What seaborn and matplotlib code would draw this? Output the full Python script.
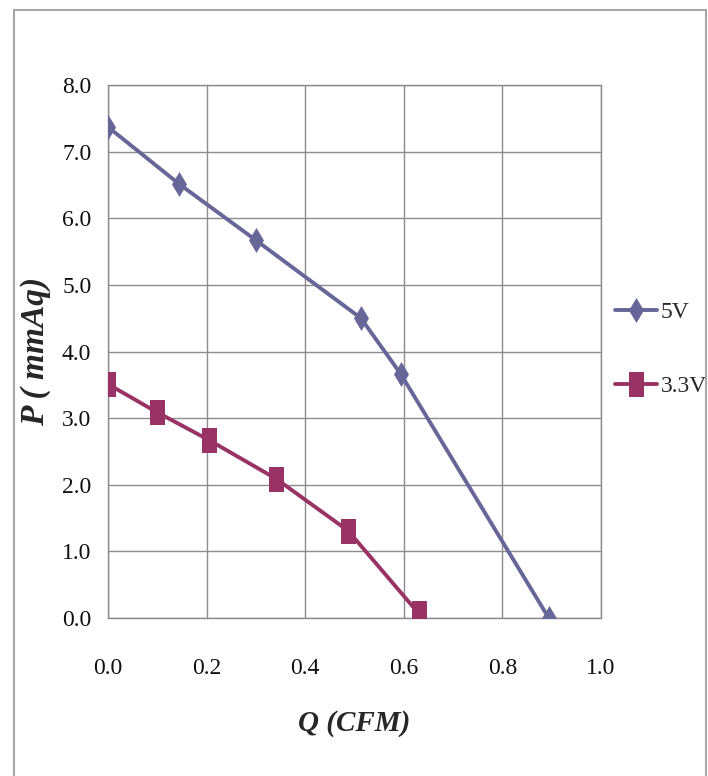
import numpy as np
import pandas as pd
import seaborn as sns
import matplotlib.pyplot as plt
from matplotlib.patches import Rectangle

# fan curve data
q_5v = [0.0, 0.145, 0.30, 0.513, 0.594, 0.894]
p_5v = [7.37, 6.51, 5.67, 4.50, 3.66, 0.0]
q_33v = [0.0, 0.099, 0.205, 0.341, 0.487, 0.630]
p_33v = [3.51, 3.09, 2.67, 2.09, 1.31, 0.07]
series_names = ["5V", "3.3V"]
x_ticks = [0.0, 0.2, 0.4, 0.6, 0.8, 1.0]
y_ticks = [0.0, 1.0, 2.0, 3.0, 4.0, 5.0, 6.0, 7.0, 8.0]

df = pd.concat([
    pd.DataFrame({"Q": q_5v, "P": p_5v, "series": series_names[0]}),
    pd.DataFrame({"Q": q_33v, "P": p_33v, "series": series_names[1]}),
], ignore_index=True)

sns.set_style("white")
plt.rcParams["font.family"] = ["Liberation Serif", "DejaVu Serif"]

GRID = "#8c8c8c"
palette = {"5V": "#666699", "3.3V": "#993366"}
diamond = [(0, -0.5), (0.3, 0), (0, 0.5), (-0.3, 0)]
rect = [(-0.3, -0.5), (0.3, -0.5), (0.3, 0.5), (-0.3, 0.5)]
markers = {"5V": diamond, "3.3V": rect}

fig = plt.figure(figsize=(7.08, 7.76), dpi=100)
ax = fig.add_axes([108 / 708, 1 - 618 / 776, 493 / 708, 533 / 776])

sns.lineplot(data=df, x="Q", y="P", hue="series", style="series",
             palette=palette, markers=markers, dashes=False, sort=False,
             linewidth=2.8, markersize=18, markeredgewidth=0,
             ax=ax, zorder=3)

ax.set_xlim(0, 1.0)
ax.set_ylim(0, 8.0)
ax.set_xticks(x_ticks)
ax.set_yticks(y_ticks)
ax.set_xticklabels([f"{v:.1f}" for v in x_ticks])
ax.set_yticklabels([f"{v:.1f}" for v in y_ticks])
ax.grid(True, color=GRID, linewidth=1.0)
for s in ax.spines.values():
    s.set_color(GRID)
    s.set_linewidth(1.0)
ax.tick_params(axis="both", direction="out", length=5, width=1.0, color=GRID,
               labelsize=17, labelcolor="#111111")
ax.tick_params(axis="x", pad=24)
ax.tick_params(axis="y", pad=7)

ax.set_xlabel("Q (CFM)", fontsize=21, fontweight="bold", fontstyle="italic", labelpad=22)
ax.set_ylabel("P ( mmAq)", fontsize=24, fontweight="bold", fontstyle="italic", labelpad=8)

ax.legend(loc="center left", bbox_to_anchor=(1.028, 0.504), frameon=False,
          fontsize=17, handlelength=1.8, handletextpad=0.15, labelspacing=2.2,
          borderpad=0, borderaxespad=0, title=None)

# outer chart frame
fig.add_artist(Rectangle((14 / 708, -0.02), 692 / 708, 1.02 - 10 / 776,
                         transform=fig.transFigure, fill=False,
                         edgecolor="#a6a6a6", linewidth=1.5))

fig.savefig("out.png", dpi=100)
